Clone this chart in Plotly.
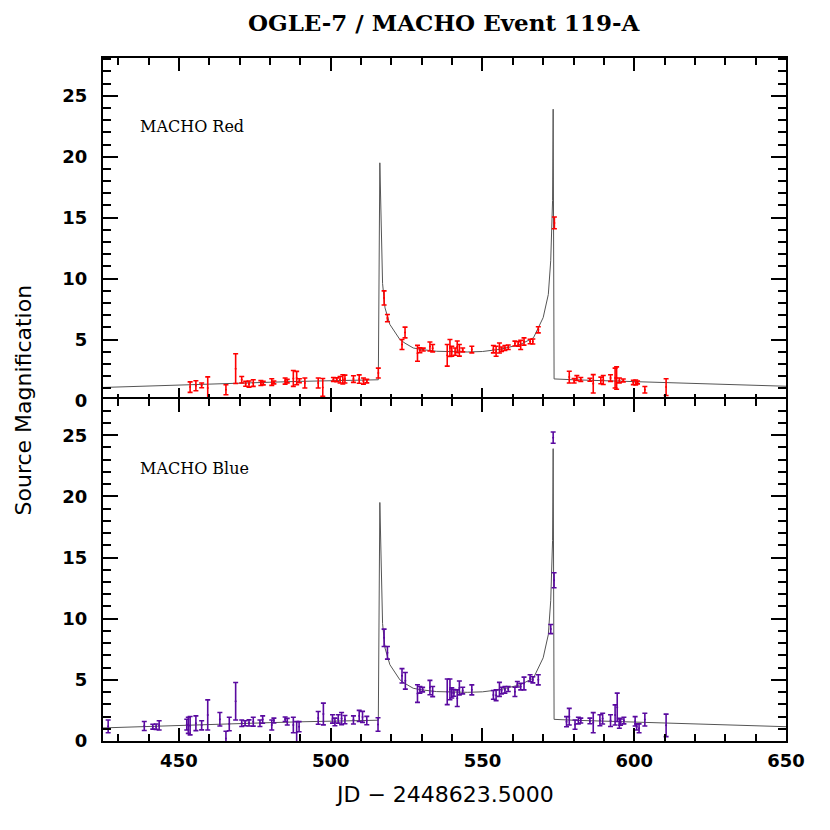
import plotly.graph_objects as go
from plotly.subplots import make_subplots

# model light curve
model_x = [425, 440, 450, 460, 470, 480, 490, 500, 510, 515.7, 516.2, 516.8, 517.1, 517.9,
           519.5, 522.8, 524.5, 527.2, 530.0, 534.9, 540, 545, 550, 555.8, 562.4, 566.8,
           570.0, 571.7, 572.5, 572.9, 573.1, 573.3, 573.6, 580, 590, 600, 611.8, 630, 650]
model_y = [1.07, 1.20, 1.29, 1.36, 1.43, 1.50, 1.57, 1.62, 1.67, 1.70, 19.5, 12.3, 9.6, 7.6,
           6.24, 5.0, 4.7, 4.31, 4.18, 4.04, 3.98, 3.98, 4.02, 4.20, 4.59, 5.14,
           6.8, 8.7, 11.5, 14.2, 16.4, 23.9, 1.77, 1.70, 1.62, 1.52, 1.43, 1.30, 1.17]

# MACHO red
red_x = [453.7, 455.6, 457.5, 459.5, 465.5, 468.7, 470.7, 472.0, 473.1, 474.5, 477.0, 477.8,
         480.6, 481.3, 485.0, 485.7, 487.7, 488.8, 489.7, 491.5, 495.9, 497.4, 500.9, 502.0,
         503.1, 504.0, 504.7, 507.5, 509.4, 510.8, 511.9, 515.7, 517.6, 518.7, 523.5, 524.5,
         528.6, 529.4, 530.5, 532.7, 533.6, 538.4, 539.3, 539.9, 541.0, 541.7, 542.4, 543.5,
         546.5, 553.6, 554.5, 555.6, 556.3, 557.4, 558.5, 560.7, 561.8, 562.6, 563.7, 565.7,
         566.6, 568.4, 573.7, 578.6, 580.2, 581.1, 582.4, 585.4, 586.5, 589.0, 589.8, 592.2,
         593.7, 594.2, 595.1, 596.4, 599.7, 600.5, 601.1, 603.5, 610.5]
red_y = [1.10, 1.21, 1.24, 1.02, 0.88, 2.61, 1.70, 1.37, 1.35, 1.43, 1.43, 1.43,
         1.51, 1.48, 1.59, 1.59, 1.81, 1.84, 1.62, 1.43, 1.43, 1.07, 1.73, 1.70,
         1.70, 1.73, 1.76, 1.76, 1.76, 1.59, 1.59, 2.25, 8.41, 6.76, 4.59, 5.58,
         3.87, 4.12, 4.18, 4.43, 4.29, 3.71, 4.31, 4.04, 4.01, 4.40, 4.12, 4.15,
         4.18, 4.21, 4.04, 4.31, 4.21, 4.31, 4.37, 4.67, 4.64, 4.56, 4.84, 4.84,
         4.84, 5.80, 14.57, 1.92, 1.62, 1.84, 1.73, 1.70, 1.37, 1.65, 1.68, 1.84,
         1.84, 1.84, 1.65, 1.65, 1.48, 1.48, 1.48, 0.88, 1.10]
red_err = [0.43, 0.41, 0.20, 0.92, 0.41, 1.22, 0.27, 0.20, 0.25, 0.27, 0.20, 0.15,
           0.27, 0.12, 0.25, 0.14, 0.65, 0.55, 0.16, 0.41, 0.41, 0.73, 0.16, 0.16,
           0.27, 0.38, 0.32, 0.27, 0.34, 0.25, 0.14, 0.41, 0.58, 0.30, 0.41, 0.44,
           0.65, 0.20, 0.12, 0.37, 0.30, 0.89, 0.69, 0.41, 0.30, 0.48, 0.48, 0.16,
           0.27, 0.30, 0.41, 0.41, 0.18, 0.20, 0.18, 0.20, 0.18, 0.37, 0.30, 0.18,
           0.20, 0.25, 0.48, 0.48, 0.18, 0.20, 0.16, 0.12, 0.75, 0.27, 0.37, 0.27,
           0.82, 0.92, 0.20, 0.12, 0.18, 0.20, 0.12, 0.27, 0.69]

# MACHO blue
blue_x = [426.7, 438.6, 441.4, 442.5, 443.5, 452.6, 453.1, 453.7, 455.6, 457.5, 459.5, 463.5,
          465.5, 466.6, 468.7, 470.7, 471.8, 473.1, 474.5, 476.7, 477.6, 480.6, 481.3, 485.0,
          485.7, 487.7, 488.8, 489.6, 495.9, 497.6, 500.6, 501.4, 502.5, 503.6, 504.7, 507.5,
          509.4, 510.5, 511.9, 515.6, 517.6, 518.7, 523.5, 524.6, 528.6, 529.4, 530.3, 532.7,
          533.6, 538.4, 539.3, 539.9, 540.6, 541.7, 542.4, 543.5, 546.5, 553.6, 554.5, 555.6,
          556.3, 557.4, 558.5, 560.7, 561.5, 562.6, 563.7, 565.7, 566.6, 568.4, 572.5, 573.6,
          573.3, 577.7, 578.6, 580.5, 581.6, 582.4, 585.4, 586.5, 588.7, 589.6, 592.2, 593.7,
          594.4, 595.1, 595.5, 596.6, 600.3, 600.8, 601.6, 603.5, 610.5]
blue_y = [1.20, 1.23, 1.17, 1.17, 1.28, 1.34, 1.28, 1.25, 1.45, 1.28, 2.13, 1.78,
          0.20, 1.39, 3.25, 1.45, 1.45, 1.48, 1.58, 1.45, 1.75, 1.31, 1.67, 1.78,
          1.58, 1.31, 0.71, 1.17, 1.89, 2.21, 1.80, 1.56, 1.80, 1.83, 1.75, 1.72,
          2.05, 1.97, 1.67, 1.35, 8.44, 7.21, 5.33, 4.92, 3.88, 4.18, 4.20, 4.37,
          4.04, 4.02, 4.22, 3.93, 3.93, 3.50, 4.34, 4.12, 4.18, 3.77, 3.74, 4.22,
          4.12, 4.18, 4.25, 4.02, 4.64, 4.45, 4.70, 5.14, 5.00, 5.00, 9.15, 13.14,
          24.8, 1.58, 1.99, 1.34, 1.67, 1.67, 1.64, 1.50, 1.70, 1.83, 1.67, 2.13,
          2.75, 1.45, 1.55, 1.67, 1.61, 1.15, 1.04, 1.75, 1.28]
blue_err = [0.52, 0.37, 0.20, 0.22, 0.38, 0.44, 0.66, 0.75, 0.60, 0.37, 1.23, 0.55,
            0.60, 0.55, 1.53, 0.27, 0.20, 0.25, 0.36, 0.27, 0.30, 0.41, 0.20, 0.18,
            0.27, 0.63, 0.89, 0.41, 0.52, 0.89, 0.34, 0.31, 0.34, 0.50, 0.34, 0.33,
            0.45, 0.45, 0.34, 0.55, 0.71, 0.52, 0.59, 0.68, 0.72, 0.27, 0.18, 0.59,
            0.41, 1.05, 0.85, 0.41, 0.27, 0.68, 0.57, 0.27, 0.41, 0.36, 0.44, 0.57,
            0.27, 0.27, 0.20, 0.38, 0.23, 0.27, 0.52, 0.27, 0.25, 0.41, 0.37, 0.61,
            0.46, 0.41, 0.68, 0.38, 0.27, 0.20, 0.23, 0.82, 0.45, 0.44, 0.48, 0.82,
            1.16, 0.41, 0.25, 0.27, 0.38, 0.25, 0.36, 0.52, 0.92]

RED = '#ff0000'
BLUE = '#5a0aa0'

fig = make_subplots(rows=2, cols=1, shared_xaxes=True, vertical_spacing=0)

for row, (px, py, pe, col) in enumerate([(red_x, red_y, red_err, RED),
                                         (blue_x, blue_y, blue_err, BLUE)], start=1):
    fig.add_trace(go.Scatter(x=model_x, y=model_y, mode='lines',
                             line=dict(color='#555555', width=1), hoverinfo='skip'),
                  row=row, col=1)
    fig.add_trace(go.Scatter(x=px, y=py, mode='markers',
                             marker=dict(color=col, size=2),
                             error_y=dict(type='data', array=pe, color=col,
                                          thickness=1.6, width=2.5)),
                  row=row, col=1)

tick_font = dict(family='DejaVu Sans', size=18, color='black', weight='bold')

xaxis_style = dict(range=[425, 650], showline=True, linecolor='black', linewidth=2,
                   mirror='ticks', ticks='inside', ticklen=13, tickwidth=2,
                   tickcolor='black', tick0=0, dtick=50, showgrid=False, zeroline=False,
                   tickfont=tick_font, ticklabelstandoff=2, automargin=False,
                   minor=dict(ticks='inside', dtick=10, ticklen=7, tickwidth=2,
                              tickcolor='black', showgrid=False))
yaxis_style = dict(showline=True, linecolor='black', linewidth=2, mirror='ticks',
                   ticks='inside', ticklen=15, tickwidth=2, tickcolor='black',
                   tick0=0, dtick=5, showgrid=False, zeroline=False, automargin=False,
                   tickfont=tick_font, ticklabelstandoff=10,
                   minor=dict(ticks='inside', dtick=1, ticklen=8, tickwidth=2,
                              tickcolor='black', showgrid=False))

fig.update_xaxes(**xaxis_style)
fig.update_xaxes(showticklabels=False, row=1, col=1)
fig.update_yaxes(**yaxis_style)
# panels overlap by a pixel so the shared middle frame line is single
fig.update_yaxes(range=[0, 28.1], domain=[0.5 - 1 / 683, 1], row=1, col=1)
fig.update_yaxes(range=[0, 28.0], domain=[0, 0.5 + 1 / 683], row=2, col=1)

label_font = dict(family='DejaVu Serif', size=16, color='black')
fig.add_annotation(x=436.5, y=22.45, xref='x', yref='y', text='MACHO Red',
                   showarrow=False, xanchor='left', yanchor='middle', font=label_font)
fig.add_annotation(x=436.5, y=22.27, xref='x2', yref='y2', text='MACHO Blue',
                   showarrow=False, xanchor='left', yanchor='middle', font=label_font)

fig.add_annotation(x=-0.1157, y=0.5, xref='paper', yref='paper', text='Source Magnification',
                   textangle=-90, showarrow=False, xanchor='center', yanchor='middle',
                   font=dict(family='DejaVu Sans', size=22, color='black'))
fig.add_annotation(x=0.5, y=-0.079, xref='paper', yref='paper', text='JD \u2212 2448623.5000',
                   showarrow=False, xanchor='center', yanchor='middle',
                   font=dict(family='DejaVu Sans', size=22, color='black'))
fig.add_annotation(x=0.5, y=1.0513, xref='paper', yref='paper',
                   text='OGLE-7 / MACHO Event 119-A', showarrow=False,
                   xanchor='center', yanchor='middle',
                   font=dict(family='DejaVu Serif', size=23, color='black', weight='bold'))

fig.update_layout(
    width=822, height=822,
    margin=dict(l=95, r=44, t=50, b=89),
    plot_bgcolor='white', paper_bgcolor='white',
    showlegend=False,
)

fig.write_html("out.html")
